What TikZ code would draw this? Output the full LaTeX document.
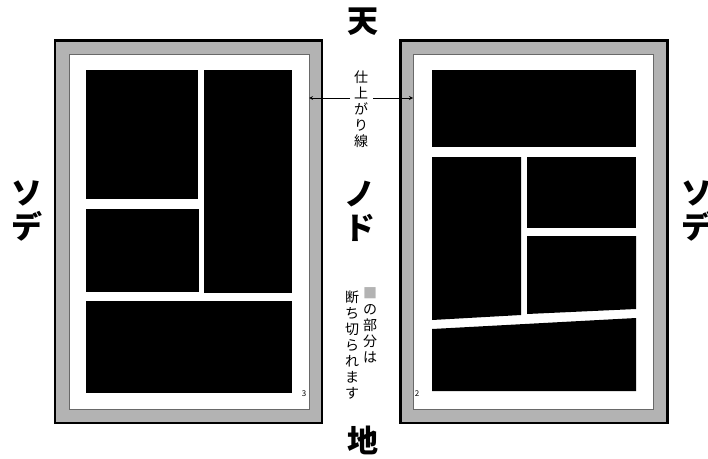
\documentclass[tikz,border=0pt]{standalone}
\usepackage{fontspec}
\newfontfamily\jp{Noto Sans CJK JP}
\usepackage{xcolor}
\usetikzlibrary{arrows}
\definecolor{bleedgray}{RGB}{179,179,179}
\definecolor{trimline}{RGB}{105,105,105}
\tikzstyle{bleed} = [rectangle, draw=black, line width=2.5pt, fill=bleedgray, inner sep=0pt, outer sep=0pt, minimum width=267pt, minimum height=382.5pt]
\tikzstyle{trim} = [rectangle, draw=trimline, line width=0.9pt, fill=white, inner sep=0pt, outer sep=0pt, minimum width=240pt, minimum height=355pt]
\tikzstyle{panel} = [fill=black]
\tikzstyle{big} = [font=\jp\bfseries\fontsize{31}{34}\selectfont, align=center, inner sep=0pt]
\tikzstyle{small} = [font=\jp\fontsize{14}{16}\selectfont, align=center, inner sep=0pt]
\tikzstyle{folio} = [font=\jp\fontsize{8}{9}\selectfont, inner sep=0pt]
\tikzstyle{arrow} = [line width=0.8pt,->,>=stealth]

\begin{document}
\begin{tikzpicture}[x=1pt, y=-1pt]
	\useasboundingbox (0,0) rectangle (708,458);
	\fill[white] (0,0) rectangle (708,458);

	% pages
	\node (bleedL) [bleed] at (188.5,231.5) {};
	\node (trimL) [trim] at (189,231.5) {};
	\node (bleedR) [bleed] at (534,231.5) {};
	\node (trimR) [trim] at (533,231.5) {};

	% left page panels
	\fill[panel] (86,70) rectangle (198,199);
	\fill[panel] (204,70) rectangle (292,293);
	\fill[panel] (86,209) rectangle (199,292);
	\fill[panel] (86,301) rectangle (292,393);

	% right page panels
	\fill[panel] (432,70) rectangle (636,147);
	\fill[panel] (432,157) -- (521,157) -- (521,315) -- (432,320) -- cycle;
	\fill[panel] (527,157) rectangle (636,228);
	\fill[panel] (527,236) -- (636,236) -- (636,309) -- (527,314) -- cycle;
	\fill[panel] (432,329) -- (636,318) -- (636,391) -- (432,391) -- cycle;

	\node (folioL) [folio] at (304,394) {3};
	\node (folioR) [folio] at (417,394) {2};

	% labels
	\node (ten) [big] at (363,22) {天};
	\node (chi) [big] at (363,440) {地};
	\node (nodo) [big] at (360,211) {ノ\\ド};
	\node (sodeL) [big] at (27,211) {ソ\\デ};
	\node (sodeR) [big] at (697,211) {ソ\\デ};

	\node (shiage) [small] at (361,109) {仕\\上\\が\\り\\線};
	\coordinate (gapL) at (350,98);
	\coordinate (gapR) at (373,98);
	\draw [arrow] (gapL) -- (gapL -| trimL.east);
	\draw [arrow] (gapR) -- (gapR -| trimR.west);

	\node (legendA) [small] at (370,325.5) {\textcolor{bleedgray}{■}\\の\\部\\分\\は};
	\node (legendB) [small] at (352,345) {断\\ち\\切\\ら\\れ\\ま\\す};
\end{tikzpicture}
\end{document}
